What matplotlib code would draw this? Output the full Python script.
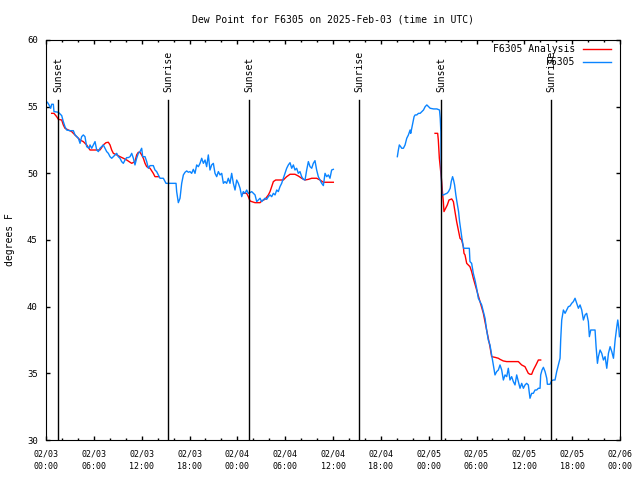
import matplotlib
matplotlib.use("Agg")
import matplotlib.pyplot as plt
import matplotlib.dates as mdates
import numpy as np
from datetime import datetime, timedelta

nan = np.nan
start = datetime(2025, 2, 3, 0, 0)

# F6305 observations (hours after 02/03 00:00 UTC, dew point F), nan = gap
obs_hours = [0.17, 0.38, 0.59, 0.71, 0.92, 1.0, 1.55, 1.97, 2.17, 2.38, 2.59, 3.01, 3.43, 3.64, 3.85,
             4.06, 4.27, 4.47, 4.68, 4.89, 5.1, 5.39, 5.52, 5.73, 5.94, 6.15, 6.36, 6.57, 6.77, 6.98,
             7.19, 7.4, 7.61, 7.82, 8.03, 8.24, 8.45, 8.66, 8.87, 9.07, 9.28, 9.49, 9.7, 9.91, 10.12,
             10.33, 10.54, 10.75, 10.96, 11.16, 11.37, 11.58, 11.79, 12.0, 12.13, 12.42, 12.63, 12.84,
             13.05, 13.46, 13.67, 13.88, 14.3, 14.72, 15.05, 16.31, 16.39, 16.6,
             16.81, 17.02, 17.23, 17.44, 17.65, 17.86, 18.06, 18.27, 18.48, 18.69, 18.9, 19.11, 19.32,
             19.53, 19.74, 19.95, 20.15, 20.36, 20.57, 20.78, 20.99, 21.2, 21.41, 21.62, 21.83, 22.04,
             22.25, 22.45, 22.66, 22.87, 23.08, 23.29, 23.5, 23.71, 23.92, 24.13, 24.34, 24.55, 24.75,
             24.96, 25.17, 25.38, 25.59, 25.8, 26.01, 26.22, 26.43, 26.64, 26.85, 27.05, 27.26, 27.47,
             27.68, 27.89, 28.1, 28.31, 28.52, 28.73, 28.94, 29.14, 29.35, 29.56, 29.77, 29.98, 30.19,
             30.4, 30.61, 30.82, 31.03, 31.23, 31.44, 31.65, 31.86, 32.07, 32.28, 32.49, 32.7, 32.91,
             33.12, 33.33, 33.53, 33.74, 33.95, 34.16, 34.37, 34.58, 34.79, 35.0, 35.21, 35.42, 35.62,
             35.83, 36.04,
             40.0,
             44.07, 44.2, 44.32, 44.49, 44.62, 44.83, 45.04, 45.25, 45.46, 45.67, 45.75, 45.88, 46.0,
             46.17, 46.3, 46.51, 46.72, 46.93, 47.14, 47.35, 47.56, 47.77, 47.98, 48.19, 48.61, 49.03,
             49.36, 49.45, 49.53, 49.57, 49.61, 49.66, 49.87, 50.08, 50.29, 50.49, 50.7, 50.83, 51.0,
             51.12, 51.25, 51.41, 51.54, 51.75, 51.88, 52.05, 52.17, 52.38, 53.1, 53.18, 53.39, 53.6,
             53.81, 54.02, 54.23, 54.44, 54.65, 54.86, 55.07, 55.27, 55.48, 55.69, 55.9, 56.11, 56.32,
             56.53, 56.74, 56.95, 57.16, 57.37, 57.58, 57.79, 57.99, 58.2, 58.41, 58.62, 58.83, 59.04,
             59.25, 59.46, 59.67, 59.88, 60.09, 60.29, 60.5, 60.71, 60.92, 61.13, 61.34, 61.55, 61.76,
             61.97, 62.05, 62.22, 62.39, 62.6, 62.81, 62.89, 63.22, 63.43, 63.64, 63.85, 64.06, 64.27,
             64.48, 64.56, 64.69, 64.9, 65.11, 65.32, 65.52, 65.73, 65.94, 66.15, 66.36, 66.57, 66.78,
             66.99, 67.2, 67.41, 67.62, 67.82, 68.03, 68.16, 68.33, 68.66, 68.87, 69.0, 69.17, 69.29,
             69.5, 69.71, 69.92, 70.13, 70.34, 70.55, 70.76, 70.97, 71.18, 71.39, 71.6, 71.72, 71.85,
             71.93]
obs_dewpt = [55.33, 55.13, 54.88, 55.18, 55.18, 54.63, 54.58, 54.33, 53.88, 53.5, 53.25, 53.2, 53.2,
             52.88, 52.75, 52.63, 52.25, 52.75, 52.88, 52.75, 52.0, 51.88, 52.13, 51.88, 52.13, 52.38,
             51.75, 51.63, 51.88, 52.0, 52.13, 51.88, 51.63, 51.5, 51.25, 51.13, 51.25, 51.38, 51.5,
             51.25, 51.13, 50.88, 50.75, 51.0, 51.18, 51.18, 51.25, 51.5, 51.13, 50.63, 51.13, 51.5,
             51.63, 51.88, 51.25, 51.25, 50.88, 50.38, 50.58, 50.58, 50.25, 50.13, 49.63, 49.63, 49.25,
             49.25, 48.63, 47.8,
             48.13, 49.25, 49.88, 50.08, 50.18, 50.08, 50.13, 50.0, 50.3, 50.0, 50.63, 50.5, 50.75,
             51.13, 50.75, 51.0, 50.5, 51.38, 50.25, 50.63, 50.75, 50.0, 49.75, 50.13, 49.88, 50.0,
             49.25, 49.38, 49.25, 49.63, 49.25, 50.0, 49.25, 48.75, 49.5, 49.25, 48.88, 48.25, 48.63,
             48.5, 48.75, 48.5, 48.55, 48.63, 48.5, 48.38, 47.88, 48.0, 48.13, 47.88, 48.0, 48.13,
             48.05, 48.25, 48.38, 48.25, 48.5, 48.38, 48.75, 48.63, 49.0, 49.25, 49.63, 50.0, 50.38,
             50.63, 50.8, 50.38, 50.63, 50.25, 50.38, 50.0, 50.13, 49.75, 49.55, 49.5, 50.25, 50.88,
             50.5, 50.38, 50.75, 50.95, 50.25, 49.75, 49.5, 49.25, 49.08, 50.0, 49.75, 49.88, 49.63,
             50.25, 50.3,
             nan,
             51.25, 51.75, 52.13, 52.0, 51.88, 51.88, 52.13, 52.63, 52.88, 53.25, 53.0, 53.38, 53.75,
             54.25, 54.38, 54.38, 54.5, 54.5, 54.63, 54.75, 55.0, 55.13, 55.0, 54.88, 54.83, 54.83,
             54.75, 54.13, 53.13, 50.13, 49.13, 48.38, 48.38, 48.45, 48.5, 48.63, 48.88, 49.38, 49.75,
             49.5, 49.13, 48.38, 47.88, 47.13, 46.38, 45.63, 45.13, 44.38, 44.38, 43.38, 43.25, 42.5,
             42.0, 41.38, 40.63, 40.38, 40.13, 39.63, 39.13, 38.25, 37.5, 37.13, 36.38, 35.63, 34.88,
             35.13, 35.25, 35.63, 35.25, 34.5, 34.88, 34.75, 35.38, 34.5, 34.75, 34.38, 34.13, 34.88,
             34.38, 33.88, 34.25, 33.88, 34.13, 34.25, 34.13, 33.13, 33.5, 33.5, 33.75, 33.75, 33.88,
             33.88, 34.88, 35.25, 35.45, 35.13, 34.63, 34.18, 34.18, 34.45, 34.5, 34.5, 35.13, 35.63,
             36.13, 37.5, 39.0, 39.75, 39.5, 39.75, 40.0, 40.05, 40.25, 40.38, 40.63, 40.25, 39.88,
             40.13, 39.75, 39.0, 39.38, 39.5, 38.88, 37.75, 38.25, 38.25, 38.25, 37.0, 35.75, 36.25,
             36.75, 36.5, 36.0, 36.25, 35.38, 36.5, 37.0, 36.63, 36.13, 37.5, 38.5, 39.0, 38.38,
             37.75]

# F6305 Analysis
ana_hours = [0.71, 1.0, 1.34, 1.55, 1.97, 2.17, 2.38, 2.8, 3.22, 3.43, 3.85, 4.27, 4.68, 5.1, 5.52,
             6.36, 6.77, 6.98, 7.19, 7.53, 7.82, 8.03, 8.24, 8.45, 8.87, 9.28, 9.7, 10.12, 10.75,
             11.16, 11.37, 11.58, 11.79, 12.0, 12.21, 12.42, 12.63, 13.05, 13.46, 13.67, 14.09,
             20.0,
             24.75, 25.17, 25.38, 25.59, 25.8, 26.22, 26.85, 27.05, 27.47, 27.89, 28.1, 28.31, 28.52,
             28.81, 29.77, 29.98, 30.19, 30.61, 31.23, 31.65, 32.07, 32.49, 32.91, 33.33, 33.95,
             34.37, 34.79, 36.04,
             42.0,
             48.8, 49.13, 49.21, 49.34, 49.51, 49.63, 49.76, 49.84, 49.92, 50.13, 50.34, 50.55, 50.89,
             51.1, 51.3, 51.51, 51.72, 51.93, 52.14, 52.35, 52.43, 52.56, 52.77, 53.18, 53.39, 53.6,
             54.02, 54.44, 54.86, 55.27, 55.69, 55.9, 56.32, 56.74, 56.95, 57.36, 57.78, 59.25, 59.66,
             60.08, 60.29, 60.5, 60.71, 60.92, 61.13, 61.46, 61.76, 62.05]
ana_dewpt = [54.5, 54.5, 54.25, 54.05, 54.0, 53.63, 53.38, 53.25, 53.13, 53.0, 52.75, 52.5, 52.38,
             52.13, 51.75, 51.75, 51.75, 51.93, 52.13, 52.3, 52.33, 52.13, 51.75, 51.5, 51.38, 51.25,
             51.13, 51.0, 50.75, 50.88, 51.38, 51.58, 51.58, 51.38, 51.13, 50.75, 50.5, 50.38, 50.0,
             49.75, 49.75,
             nan,
             48.5, 48.5, 48.25, 47.93, 47.88, 47.8, 47.8, 47.93, 48.05, 48.38, 48.63, 49.0, 49.38,
             49.5, 49.5, 49.63, 49.75, 49.93, 49.93, 49.8, 49.63, 49.5, 49.55, 49.63, 49.63, 49.5,
             49.33, 49.33,
             nan,
             53.0, 53.0, 52.5, 51.13, 50.13, 49.38, 48.38, 47.88, 47.13, 47.38, 47.63, 48.0, 48.08,
             47.88, 47.13, 46.38, 45.75, 45.13, 45.0, 44.5, 44.0, 43.88, 43.25, 43.0, 42.63, 42.13,
             41.25, 40.38, 39.5, 38.25, 37.0, 36.25, 36.2, 36.13, 36.05, 35.93, 35.88, 35.88, 35.63,
             35.5, 35.25, 35.0, 34.93, 34.93, 35.25, 35.63, 36.0, 36.0]

sunset_hours = [1.55, 25.5, 49.55]
sunrise_hours = [15.35, 39.3, 63.4]


def to_time(hours):
    return [start + timedelta(hours=h) for h in hours]


plt.rcParams['font.family'] = 'DejaVu Sans Mono'

fig = plt.figure(figsize=(6.4, 4.8), dpi=100)
ax = fig.add_axes([46 / 640, 40 / 480, 574 / 640, 400 / 480])

ax.plot(to_time(ana_hours), ana_dewpt, color='#ff0000', lw=1.0, label='F6305 Analysis')
ax.plot(to_time(obs_hours), obs_dewpt, color='#0a84ff', lw=1.0, label='F6305')

for h in sunset_hours:
    t = start + timedelta(hours=h)
    ax.axvline(t, ymin=0, ymax=0.85, color='black', lw=1.0)
    ax.text(t, 0.87, 'Sunset', rotation=90, ha='center', va='bottom', fontsize=7,
            transform=ax.get_xaxis_transform())
for h in sunrise_hours:
    t = start + timedelta(hours=h)
    ax.axvline(t, ymin=0, ymax=0.85, color='black', lw=1.0)
    ax.text(t, 0.87, 'Sunrise', rotation=90, ha='center', va='bottom', fontsize=7,
            transform=ax.get_xaxis_transform())

ax.set_xlim(start, start + timedelta(hours=72))
ax.set_ylim(30, 60)
ax.set_yticks(np.arange(30, 61, 5))
ax.xaxis.set_major_locator(mdates.HourLocator(byhour=[0, 6, 12, 18]))
ax.xaxis.set_minor_locator(mdates.HourLocator(interval=2))
ax.xaxis.set_major_formatter(mdates.DateFormatter('%m/%d\n%H:%M'))

ax.tick_params(which='both', direction='in', top=True, right=True, width=1)
ax.tick_params(which='major', length=3)
ax.tick_params(which='minor', length=1.5)
ax.tick_params(axis='x', labelsize=6, pad=7)
ax.tick_params(axis='y', labelsize=6.5, pad=6)
for lbl in ax.get_xticklabels():
    lbl.set_linespacing(1.45)

fig.text(333 / 640, 1 - 19 / 480, 'Dew Point for F6305 on 2025-Feb-03 (time in UTC)',
         ha='center', va='center', fontsize=7)
fig.text(10 / 640, 0.5, 'degrees F', rotation=90, ha='center', va='center', fontsize=7)

ax.legend(loc='upper right', bbox_to_anchor=(611 / 640, 1 - 44 / 480), bbox_transform=fig.transFigure,
          frameon=False, markerfirst=False, fontsize=7, handlelength=2.9, handletextpad=0.8,
          borderpad=0, borderaxespad=0, labelspacing=0.3)

fig.savefig('out.png', dpi=100)
